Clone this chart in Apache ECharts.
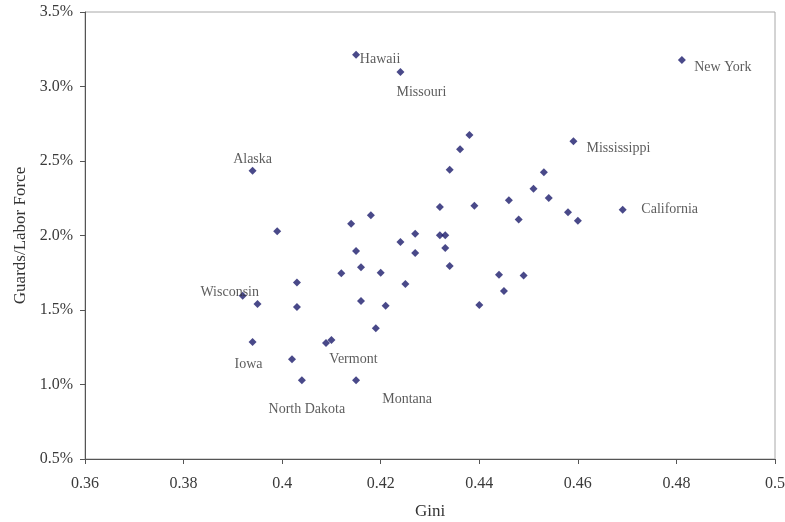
<!DOCTYPE html>
<html>
<head>
<meta charset="utf-8">
<script src="https://cdn.jsdelivr.net/npm/echarts@6/dist/echarts.min.js"></script>
<style>
html,body{margin:0;padding:0;background:#fff;}
#chart{width:785px;height:522px;}
</style>
</head>
<body>
<div id="chart"></div>
<script>
// Data (Gini coefficient vs guards as % of labor force), one entry per state
const gini = [
  0.4150, 0.4240, 0.4811, 0.3940, 0.4591, 0.4691, 0.4380, 0.4361, 0.4340, 0.4531,
  0.4510, 0.4541, 0.4460, 0.4390, 0.4320, 0.4580, 0.4600, 0.4480, 0.4180, 0.4140,
  0.4270, 0.4320, 0.4331, 0.4240, 0.4150, 0.4270, 0.4331, 0.4160, 0.4340, 0.3990,
  0.4120, 0.4200, 0.4250, 0.4160, 0.4210, 0.4190, 0.4440, 0.4490, 0.4450, 0.4400,
  0.3920, 0.3950, 0.4030, 0.4030, 0.3940, 0.4089, 0.4100, 0.4020, 0.4040, 0.4150
];
const guards = [
  3.213, 3.097, 3.178, 2.435, 2.633, 2.173, 2.675, 2.579, 2.442, 2.424,
  2.314, 2.252, 2.236, 2.200, 2.191, 2.156, 2.099, 2.108, 2.136, 2.079,
  2.012, 2.001, 2.002, 1.956, 1.896, 1.883, 1.916, 1.787, 1.795, 2.029,
  1.747, 1.750, 1.675, 1.561, 1.529, 1.377, 1.736, 1.732, 1.628, 1.534,
  1.595, 1.540, 1.685, 1.520, 1.286, 1.279, 1.299, 1.170, 1.028, 1.028
];
const names = [
  'Hawaii', 'Missouri', 'New York', 'Alaska', 'Mississippi', 'California', '', '', '', '',
  '', '', '', '', '', '', '', '', '', '',
  '', '', '', '', '', '', '', '', '', '',
  '', '', '', '', '', '', '', '', '', '',
  'Wisconsin', '', '', '', 'Iowa', '', 'Vermont', '', 'North Dakota', 'Montana'
];
const xTicks = [0.36, 0.38, 0.40, 0.42, 0.44, 0.46, 0.48, 0.50];
const yTicks = [0.5, 1.0, 1.5, 2.0, 2.5, 3.0, 3.5];

// label placement (pixel offsets of label centre from the marker)
const labelOffsets = {
  'Hawaii': [24, 5], 'Missouri': [21, 20], 'New York': [41, 7], 'Alaska': [0, -11],
  'Mississippi': [45, 7], 'California': [47, 0], 'Wisconsin': [-13, -4],
  'Iowa': [-4, 22], 'Vermont': [22, 19], 'North Dakota': [5, 29], 'Montana': [51, 19]
};

const data = gini.map((g, i) => {
  const item = { value: [g, guards[i]], name: names[i] };
  if (names[i]) {
    item.label = {
      show: true, position: 'inside', offset: labelOffsets[names[i]],
      formatter: names[i], align: 'center', verticalAlign: 'middle',
      color: '#333', fontSize: 14, fontFamily: 'Liberation Serif'
    };
  }
  return item;
});

const chart = echarts.init(document.getElementById('chart'), null, { renderer: 'canvas' });
const serif = 'Liberation Serif';
chart.setOption({
  animation: false,
  backgroundColor: '#fff',
  grid: { left: 85, right: 10, top: 12, bottom: 63, show: true, borderColor: '#a8a8a8', borderWidth: 1,
    containLabel: false, outerBoundsMode: 'none' },
  xAxis: {
    type: 'value', min: xTicks[0], max: xTicks[xTicks.length - 1], interval: 0.02,
    name: 'Gini', nameLocation: 'middle', nameGap: 44,
    nameTextStyle: { fontFamily: serif, fontSize: 17, color: '#333' },
    axisLine: { show: true, lineStyle: { color: '#555', width: 1 } },
    axisTick: { show: true, inside: false, length: 5, lineStyle: { color: '#555' } },
    splitLine: { show: false },
    axisLabel: { margin: 17, fontFamily: serif, fontSize: 16, color: '#3a3a3a',
      formatter: v => String(Number(v.toFixed(2))) }
  },
  yAxis: {
    type: 'value', min: yTicks[0], max: yTicks[yTicks.length - 1], interval: 0.5,
    name: 'Guards/Labor Force', nameLocation: 'middle', nameGap: 56,
    nameTextStyle: { fontFamily: serif, fontSize: 17, color: '#333' },
    axisLine: { show: true, lineStyle: { color: '#555', width: 1 } },
    axisTick: { show: true, inside: false, length: 5, lineStyle: { color: '#555' } },
    splitLine: { show: false },
    axisLabel: { margin: 12, fontFamily: serif, fontSize: 16, color: '#3a3a3a',
      formatter: v => v.toFixed(1) + '%' }
  },
  series: [{
    type: 'scatter',
    symbol: 'diamond',
    symbolSize: 8,
    itemStyle: { color: '#1c1c6b' },
    data: data
  }]
});
</script>
</body>
</html>
